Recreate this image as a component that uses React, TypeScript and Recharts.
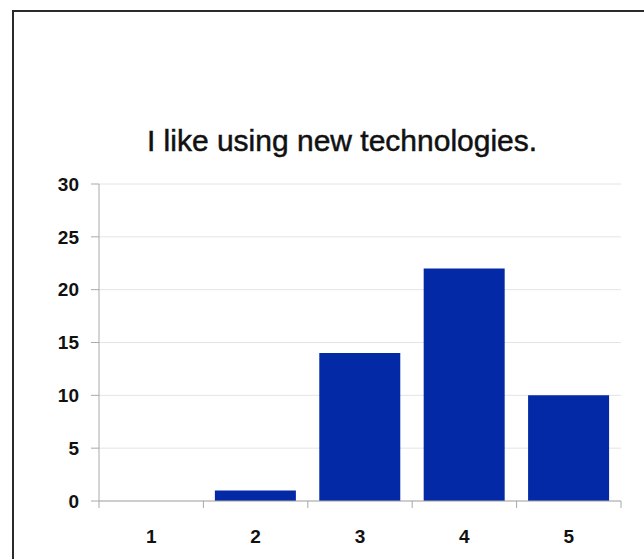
import { Bar, BarChart, CartesianGrid, XAxis, YAxis } from "recharts";

// Survey answers on a 1–5 scale and how many people picked each one.
const categories = ["1", "2", "3", "4", "5"];
const counts = [0, 1, 14, 22, 10];
const yTicks = [0, 5, 10, 15, 20, 25, 30];
const TITLE = "I like using new technologies.";

const rows = categories.map((answer, i) => ({ answer, count: counts[i] }));

const FONT = '"Liberation Sans", Arial, Helvetica, sans-serif';
const BAR_BLUE = "#0329a6";
const AXIS_GRAY = "#a9a9a9";
const GRID_GRAY = "#e4e4e4";

// Category axis tick: label in the middle of the band, tick marks on the band
// edges (Excel-style), which Recharts does not do by itself.
function EdgeTick(props: any) {
  const { x, y, width, visibleTicksCount, index, payload } = props;
  const half = width / visibleTicksCount / 2;
  const last = index === visibleTicksCount - 1;
  return (
    <g>
      <line x1={x - half} x2={x - half} y1={y} y2={y + 7} stroke={AXIS_GRAY} />
      {last && (
        <line x1={x + half} x2={x + half} y1={y} y2={y + 7} stroke={AXIS_GRAY} />
      )}
      <text
        x={x}
        y={y + 29}
        dy="0.71em"
        textAnchor="middle"
        fontFamily={FONT}
        fontWeight="bold"
        fontSize={19}
        fill="#111"
      >
        {payload.value}
      </text>
    </g>
  );
}

export default function App() {
  return (
    <div style={{ position: "relative", width: 644, height: 559, overflow: "hidden", background: "#fff" }}>
      <style>{"body{margin:0}"}</style>
      <div
        style={{
          position: "absolute",
          left: 12,
          top: 10,
          width: 700,
          height: 600,
          borderLeft: "2px solid #2a2a2a",
          borderTop: "2px solid #2a2a2a",
        }}
      />
      <div
        style={{
          position: "absolute",
          left: 0,
          width: 684,
          top: 126,
          textAlign: "center",
          fontFamily: FONT,
          fontSize: 30,
          lineHeight: 1,
          color: "#111",
          WebkitTextStroke: "0.5px #111",
          whiteSpace: "nowrap",
        }}
      >
        {TITLE}
      </div>
      <div style={{ position: "absolute", left: 0, top: 0 }}>
        <BarChart
          width={644}
          height={559}
          data={rows}
          margin={{ top: 184, right: 23, bottom: 0, left: 0 }}
          barCategoryGap="11%"
        >
          <CartesianGrid vertical={false} stroke={GRID_GRAY} />
          <XAxis
            dataKey="answer"
            height={58}
            axisLine={{ stroke: AXIS_GRAY }}
            tickLine={false}
            tickSize={0}
            tickMargin={0}
            tick={<EdgeTick />}
            interval={0}
          />
          <YAxis
            width={99}
            domain={[0, 30]}
            ticks={yTicks}
            interval={0}
            axisLine={{ stroke: AXIS_GRAY }}
            tickLine={{ stroke: AXIS_GRAY }}
            tickSize={8}
            tickMargin={12}
            tick={{ fontFamily: FONT, fontWeight: "bold", fontSize: 19, fill: "#111" }}
          />
          <Bar dataKey="count" fill={BAR_BLUE} isAnimationActive={false} />
        </BarChart>
      </div>
    </div>
  );
}
